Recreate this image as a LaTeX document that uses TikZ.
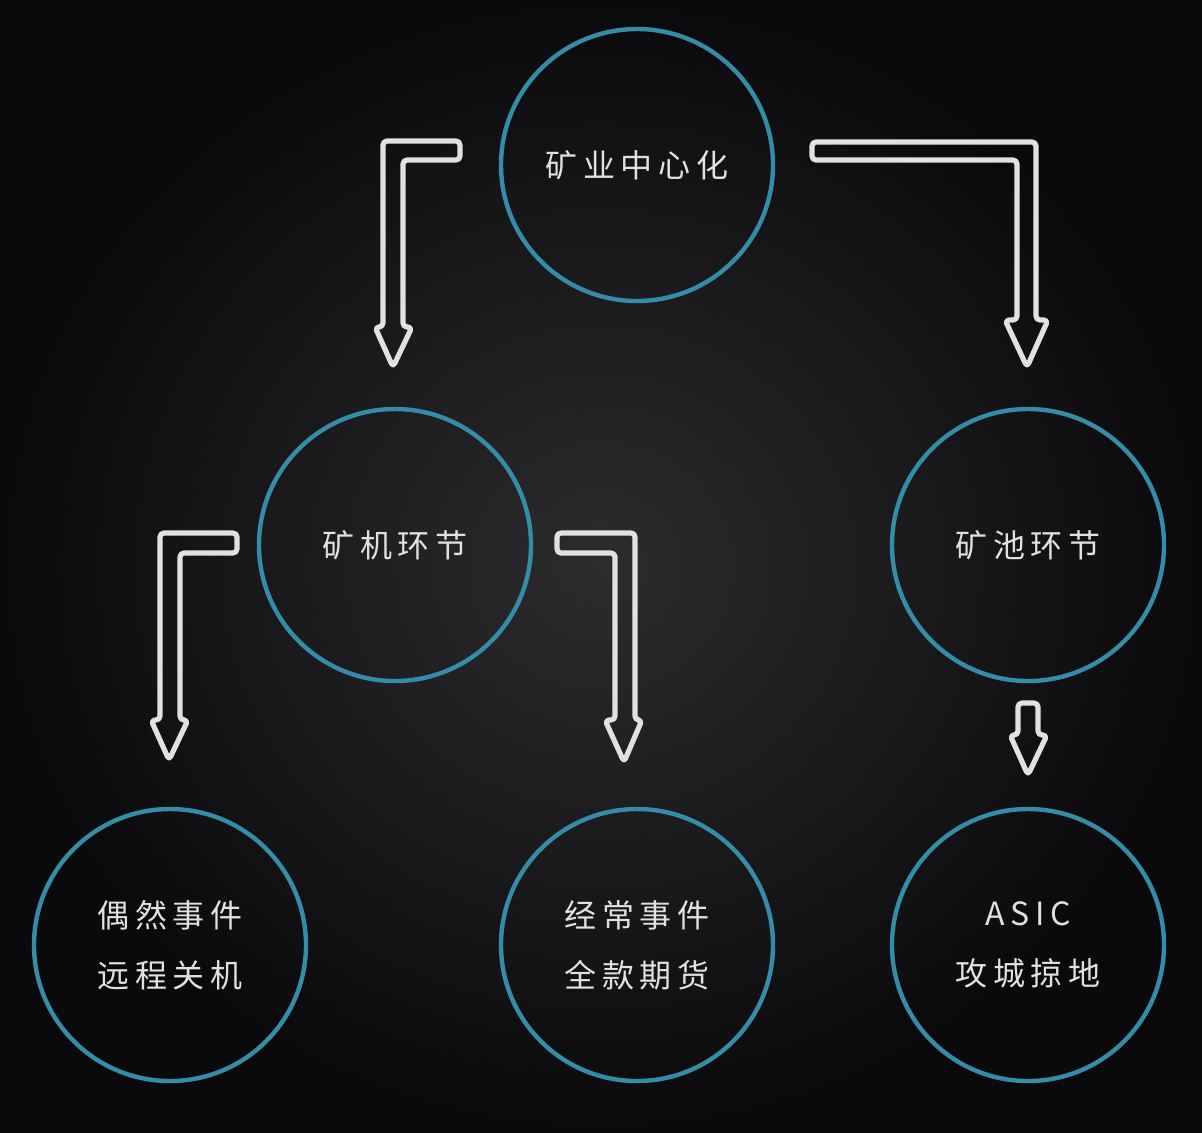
\documentclass[tikz,border=0pt]{standalone}
\usepackage{fontspec}
\setmainfont{Noto Sans CJK SC}
\usetikzlibrary{positioning}
\definecolor{ring}{RGB}{52,140,166}
\definecolor{txt}{RGB}{225,225,225}
\definecolor{bgin}{RGB}{44,44,46}
\definecolor{bgout}{RGB}{10,10,12}
\tikzset{
  stage/.style={circle, draw=ring, line width=2.2pt, minimum size=136pt, inner sep=0pt,
    text=txt, align=center, font=\fontsize{16}{30}\selectfont\addfontfeature{LetterSpace=18}},
  hollow/.style={draw=txt, line width=2.6pt, line join=round, rounded corners=2pt}
}
\begin{document}
\begin{tikzpicture}[x=0.5pt, y=-0.5pt]
\fill[inner color=bgin, outer color=bgout] (0,0) rectangle (1202,1132);
\useasboundingbox (0,0) rectangle (1202,1132);

\node (top) [stage] at (637,165) {矿业中心化};
\node (miner) [stage] at (395,545) {矿机环节};
\node (pool) [stage] at (1028,545) {矿池环节};
\node (rare) [stage] at (170,945) {偶然事件\\远程关机};
\node (often) [stage] at (637,945) {经常事件\\全款期货};
\node (asic) [stage] at (1028,945) {ASIC\\攻城掠地};

% block arrows
\draw[hollow] (460,141) -- (383,141) -- (383,327) -- (375,327) -- (393,367) -- (412,327) -- (403,327) -- (403,160) -- (460,160) -- cycle;
\draw[hollow] (812,142) -- (1036,142) -- (1036,320) -- (1048,320) -- (1027,367) -- (1005,320) -- (1017,320) -- (1017,160) -- (812,160) -- cycle;
\draw[hollow] (237,533) -- (160,533) -- (160,720) -- (151,720) -- (169,760) -- (188,720) -- (180,720) -- (180,553) -- (237,553) -- cycle;
\draw[hollow] (557,533) -- (635,533) -- (635,720) -- (642,720) -- (624,762) -- (605,720) -- (615,720) -- (615,553) -- (557,553) -- cycle;
\draw[hollow] (1018,703) -- (1038,703) -- (1038,735) -- (1047,735) -- (1028,775) -- (1010,735) -- (1018,735) -- cycle;
\end{tikzpicture}
\end{document}
